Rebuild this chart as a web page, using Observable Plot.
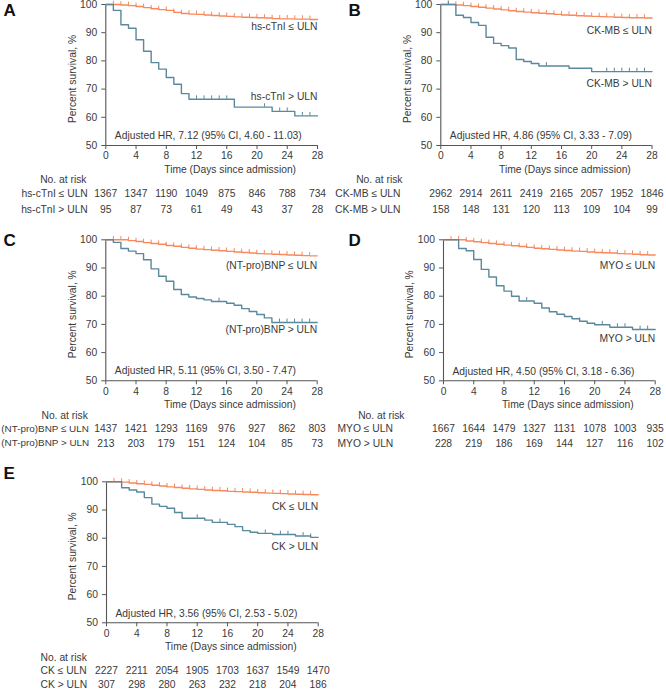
<!DOCTYPE html>
<html><head><meta charset="utf-8">
<script src="https://cdn.jsdelivr.net/npm/d3@7"></script>
<script src="https://cdn.jsdelivr.net/npm/@observablehq/plot@0.6"></script>
<style>
body{margin:0;background:#fff;}
#wrap{position:relative;width:666px;height:690px;overflow:hidden;}
</style></head><body><div id="wrap"></div>
<script>
// ---------- shared ----------
const xTicks = [0, 4, 8, 12, 16, 20, 24, 28];
const yTicks = [50, 60, 70, 80, 90, 100];
const riskDays = [0, 4, 8, 12, 16, 20, 24, 28];
const lowDays = [0,1,2,3,4,5,6,7,8,9,10,11,12,13,14,15,16,17,18,19,20,21,22,23,24,25,26,27];
const lowCensorDays = [1,2,3,4,5,6,7,8,9,10,11,12,13,14,15,16,17,18,19,20,21,22,23,24,25,26,27];

// ---------- A: hs-cTnI ----------
const aLowSurv = [100,100,99.8,99.6,99.3,98.9,98.5,98.2,97.9,97.2,96.8,96.6,96.5,96.3,96.1,95.9,95.8,95.6,95.5,95.4,95.3,95.2,95.0,94.9,94.9,94.8,94.8,94.7];
const aHighDays = [0,1,2,3,4,5,6,7,8,9,10,11,17,22,25];
const aHighSurv = [100,97.9,92.8,91.6,87.5,83.4,79.4,77.1,74.1,71.7,68.4,66.4,63.6,62.1,60.5];
const aHighCensor = [12,13,14,15,16,21,23,24,26,27];
const aRiskLow = [1367,1347,1190,1049,875,846,788,734];
const aRiskHigh = [95,87,73,61,49,43,37,28];

// ---------- B: CK-MB ----------
const bLowSurv = [100,100,99.8,99.6,99.3,99.0,98.7,98.4,98.1,97.8,97.5,97.3,97.1,96.9,96.7,96.5,96.3,96.2,96.0,95.9,95.8,95.7,95.6,95.5,95.4,95.3,95.3,95.2];
const bHighDays = [0,2,3,4,5,6,7,8,9,10,11,12,13,17,20];
const bHighSurv = [100,96.2,95.4,93.6,92.6,88.4,86.2,85.4,84.6,80.5,79.8,79.1,78.2,77.4,76.2];
const bHighCensor = [1,14,22,23,24,25,26,27];
const bRiskLow = [2962,2914,2611,2419,2165,2057,1952,1846];
const bRiskHigh = [158,148,131,120,113,109,104,99];

// ---------- C: (NT-pro)BNP ----------
const cLowSurv = [100,100,100,99.7,99.4,99.0,98.7,98.4,98.0,97.7,97.3,97.0,96.7,96.5,96.3,96.1,95.9,95.7,95.5,95.3,95.1,95.0,94.9,94.8,94.6,94.5,94.4,94.3];
const cHighDays = [0,1,2,3,4,5,6,7,8,9,10,11,12,13,14,16,17,18,19,20,21,22];
const cHighSurv = [100,99.1,96.9,96.0,95.1,92.9,89.7,87.1,85.3,82.4,80.6,79.7,79.2,78.7,78.1,77.5,76.8,75.6,74.6,73.5,72.3,70.7];
const cHighCensor = [15,23,24,25,26,27];
const cRiskLow = [1437,1421,1293,1169,976,927,862,803];
const cRiskHigh = [213,203,179,151,124,104,85,73];

// ---------- D: MYO ----------
const dLowSurv = [100,100,100,99.6,99.3,99.0,98.7,98.4,98.1,97.9,97.6,97.3,97.0,96.8,96.6,96.4,96.2,96.0,95.9,95.7,95.5,95.4,95.3,95.1,95.0,94.9,94.7,94.6];
const dHighDays = [0,2,3,4,5,6,7,8,9,10,12,13,14,15,16,17,18,19,20,22,25];
const dHighSurv = [100,96.9,96.1,93.0,89.5,86.8,83.7,81.8,80.0,78.3,77.5,75.8,74.5,73.6,72.8,72.0,71.1,70.4,69.9,69.0,68.2];
const dHighCensor = [11,18,21,23,24,26,27];
const dRiskLow = [1667,1644,1479,1327,1131,1078,1003,935];
const dRiskHigh = [228,219,186,169,144,127,116,102];

// ---------- E: CK ----------
const eLowSurv = [100,100,99.9,99.6,99.3,99.1,98.8,98.5,98.2,98.0,97.7,97.5,97.3,97.1,96.9,96.8,96.6,96.5,96.4,96.3,96.1,96.0,95.9,95.8,95.7,95.6,95.5,95.4];
const eHighDays = [0,2,3,4,5,6,7,8,9,10,13,14,16,17,18,19,20,22,25,27];
const eHighSurv = [100,97.9,97.1,96.4,94.4,92.1,91.3,90.6,89.1,87.1,86.4,85.6,84.9,84.1,82.7,82.1,81.7,81.3,80.8,80.3];
const eHighCensor = [12,15,21,23,24,26,27];
const eRiskLow = [2227,2211,2054,1905,1703,1637,1549,1470];
const eRiskHigh = [307,298,280,263,232,218,204,186];

// ---------- styling ----------
const ORANGE = "#f8895e";
const BLUE = "#5a899b";
const AXIS = "#555";
const TEXT = "#3a3a3a";
const FONT = "'Liberation Sans', Arial, Helvetica, sans-serif";
const FS = 10.3;

function survAt(days, surv, t) {
  let v = surv[0];
  for (let i = 0; i < days.length; i++) if (days[i] <= t) v = surv[i];
  return v;
}

const panels = [
  {letter: "A", name: "hs-cTnI", hr: "Adjusted HR, 7.12 (95% CI, 4.60 - 11.03)",
   lowSurv: aLowSurv, highDays: aHighDays, highSurv: aHighSurv, highCensor: aHighCensor, riskLow: aRiskLow, riskHigh: aRiskHigh,
   left: 0, top: 0, ml: 105.3, mr: 16, mt: 4, height: 218,
   lowLabDy: 22.7, highLabDy: 92.7, hrDy: -9.5, letterDx: -102.3, letterDy: 6,
   rowAnchor: "end", rowDx: -18, rowFs: FS, noAnchor: "end", noDx: -19.3, r2: 64},
  {letter: "B", name: "CK-MB", hr: "Adjusted HR, 4.86 (95% CI, 3.33 - 7.09)",
   lowSurv: bLowSurv, highDays: bHighDays, highSurv: bHighSurv, highCensor: bHighCensor, riskLow: bRiskLow, riskHigh: bRiskHigh,
   left: 333, top: 0, ml: 107.3, mr: 14.5, mt: 4, height: 218,
   lowLabDy: 26.7, highLabDy: 79.3, hrDy: -9.5, letterDx: -92.3, letterDy: 6,
   rowAnchor: "end", rowDx: -40.3, rowFs: FS, noAnchor: "end", noDx: -38.3, r2: 64},
  {letter: "C", name: "(NT-pro)BNP", hr: "Adjusted HR, 5.11 (95% CI, 3.50 - 7.47)",
   lowSurv: cLowSurv, highDays: cHighDays, highSurv: cHighSurv, highCensor: cHighCensor, riskLow: cRiskLow, riskHigh: cRiskHigh,
   left: 0, top: 230, ml: 105.3, mr: 16.3, mt: 9.3, height: 222,
   lowLabDy: 26, highLabDy: 90.2, hrDy: -10.5, letterDx: -102.3, letterDy: 0.7,
   rowAnchor: "start", rowDx: -104.5, rowFs: 9.9, noAnchor: "end", noDx: -18, r2: 62.5},
  {letter: "D", name: "MYO", hr: "Adjusted HR, 4.50 (95% CI, 3.18 - 6.36)",
   lowSurv: dLowSurv, highDays: dHighDays, highSurv: dHighSurv, highCensor: dHighCensor, riskLow: dRiskLow, riskHigh: dRiskHigh,
   left: 333, top: 230, ml: 110, mr: 11.3, mt: 9.3, height: 222,
   lowLabDy: 25.7, highLabDy: 99, hrDy: -9, letterDx: -95, letterDy: 0.7,
   rowAnchor: "start", rowDx: -106, rowFs: FS, noAnchor: "end", noDx: -39, r2: 62.5},
  {letter: "E", name: "CK", hr: "Adjusted HR, 3.56 (95% CI, 2.53 - 5.02)",
   lowSurv: eLowSurv, highDays: eHighDays, highSurv: eHighSurv, highCensor: eHighCensor, riskLow: eRiskLow, riskHigh: eRiskHigh,
   left: 0, top: 462, ml: 106, mr: 15.3, mt: 19.3, height: 228,
   lowLabDy: 25.4, highLabDy: 64.7, hrDy: -9.3, letterDx: -103, letterDy: -7.8,
   rowAnchor: "start", rowDx: -66, rowFs: FS, noAnchor: "start", noDx: -66, r2: 62}
];

const PLOT_H = 141;

function drawPanel(p) {
  const low = lowDays.map((t, i) => ({t, s: p.lowSurv[i]}));
  low.push({t: 28, s: p.lowSurv[p.lowSurv.length - 1]});
  const high = p.highDays.map((t, i) => ({t, s: p.highSurv[i]}));
  high.push({t: 28, s: p.highSurv[p.highSurv.length - 1]});
  const lowCens = lowCensorDays.map(t => ({t, s: survAt(lowDays, p.lowSurv, t)}));
  const highCens = p.highCensor.map(t => ({t, s: survAt(p.highDays, p.highSurv, t)}));
  const riskLowRows = riskDays.map((t, i) => ({t, n: String(p.riskLow[i])}));
  const riskHighRows = riskDays.map((t, i) => ({t, n: String(p.riskHigh[i])}));
  const mb = p.height - p.mt - PLOT_H;
  const T = {fill: TEXT, fontSize: FS, lineAnchor: "middle"};

  const svg = Plot.plot({
    width: 333, height: p.height,
    marginLeft: p.ml, marginRight: p.mr, marginTop: p.mt, marginBottom: mb,
    style: {fontFamily: FONT, fontSize: FS + "px", color: TEXT, background: "transparent", overflow: "visible"},
    x: {domain: [0, 28]},
    y: {domain: [50, 100]},
    marks: [
      Plot.ruleY([50], {stroke: AXIS, strokeWidth: 1.1}),
      Plot.ruleX([0], {stroke: AXIS, strokeWidth: 1.1}),
      Plot.axisX({ticks: xTicks, tickSize: 4, tickPadding: 2.5, stroke: AXIS, label: null, fontSize: FS}),
      Plot.axisY({ticks: yTicks, tickSize: 4, tickPadding: 4.5, stroke: AXIS, label: null, fontSize: FS}),
      Plot.line(low, {x: "t", y: "s", curve: "step-after", stroke: ORANGE, strokeWidth: 1.4}),
      Plot.ruleX(lowCens, {x: "t", y1: "s", y2: d => d.s + 1.2, stroke: ORANGE, strokeWidth: 1}),
      Plot.line(high, {x: "t", y: "s", curve: "step-after", stroke: BLUE, strokeWidth: 1.4}),
      Plot.ruleX(highCens, {x: "t", y1: "s", y2: d => d.s + 1.2, stroke: BLUE, strokeWidth: 1}),
      // curve labels
      Plot.text([p.name + " \u2264 ULN"], {...T, frameAnchor: "top-right", dy: p.lowLabDy, textAnchor: "end"}),
      Plot.text([p.name + " > ULN"], {...T, frameAnchor: "top-right", dy: p.highLabDy, textAnchor: "end"}),
      Plot.text([p.hr], {...T, frameAnchor: "bottom-left", dx: 9, dy: p.hrDy, textAnchor: "start"}),
      // axis titles
      Plot.text(["Time (Days since admission)"], {...T, frameAnchor: "bottom", dx: 18.5, dy: 24, textAnchor: "middle"}),
      Plot.text(["Percent survival, %"], {...T, frameAnchor: "left", dx: -33.5, dy: 4, rotate: -90, textAnchor: "middle"}),
      // risk table
      Plot.text(["No. at risk"], {...T, frameAnchor: "bottom-left", dx: p.noDx, dy: 34.5, textAnchor: p.noAnchor}),
      Plot.text([p.name + " \u2264 ULN"], {...T, fontSize: p.rowFs, frameAnchor: "bottom-left", dx: p.rowDx, dy: 48.3, textAnchor: p.rowAnchor}),
      Plot.text([p.name + " > ULN"], {...T, fontSize: p.rowFs, frameAnchor: "bottom-left", dx: p.rowDx, dy: p.r2, textAnchor: p.rowAnchor}),
      Plot.text(riskLowRows, {...T, x: "t", frameAnchor: "bottom", dy: 48.3, text: "n", textAnchor: "middle"}),
      Plot.text(riskHighRows, {...T, x: "t", frameAnchor: "bottom", dy: p.r2, text: "n", textAnchor: "middle"}),
      // panel letter
      Plot.text([p.letter], {frameAnchor: "top-left", dx: p.letterDx, dy: p.letterDy, textAnchor: "start", lineAnchor: "middle", fontSize: 17, fontWeight: "bold", fill: "#111"})
    ]
  });
  svg.style.position = "absolute";
  svg.style.left = p.left + "px";
  svg.style.top = p.top + "px";
  svg.style.maxWidth = "none";
  document.getElementById("wrap").appendChild(svg);
}

panels.forEach(drawPanel);
</script>
</body></html>
